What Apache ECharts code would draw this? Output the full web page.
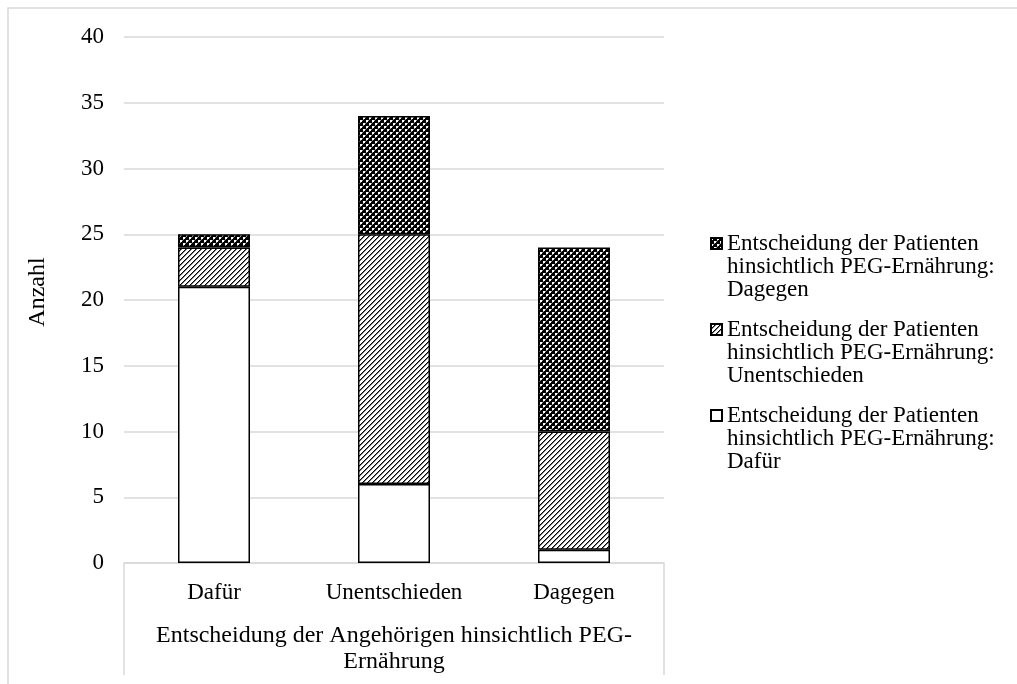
<!DOCTYPE html>
<html>
<head>
<meta charset="utf-8">
<script src="https://cdn.jsdelivr.net/npm/echarts@6/dist/echarts.min.js"></script>
<style>
html,body{margin:0;padding:0;background:#fff;}
#chart{width:1017px;height:684px;}
</style>
</head>
<body>
<div id="chart"></div>
<script>
// ---- data ----
const categories = ['Dafür', 'Unentschieden', 'Dagegen'];
const seriesNames = [
  'Entscheidung der Patienten hinsichtlich PEG-Ernährung: Dafür',
  'Entscheidung der Patienten hinsichtlich PEG-Ernährung: Unentschieden',
  'Entscheidung der Patienten hinsichtlich PEG-Ernährung: Dagegen'
];
const legendLabels = [
  'Entscheidung der Patienten\nhinsichtlich PEG-Ernährung:\nDafür',
  'Entscheidung der Patienten\nhinsichtlich PEG-Ernährung:\nUnentschieden',
  'Entscheidung der Patienten\nhinsichtlich PEG-Ernährung:\nDagegen'
];
const valuesDafuer = [21, 6, 1];
const valuesUnentschieden = [3, 19, 9];
const valuesDagegen = [1, 9, 14];
const yTicks = [0, 5, 10, 15, 20, 25, 30, 35, 40];
const xAxisTitle = 'Entscheidung der Angehörigen hinsichtlich PEG-\nErnährung';
const yAxisTitle = 'Anzahl';

// ---- patterns ----
function hatchPattern() {
  const n = 5;
  const c = document.createElement('canvas');
  c.width = n; c.height = n;
  const g = c.getContext('2d');
  g.fillStyle = '#fff'; g.fillRect(0, 0, n, n);
  for (let i = 0; i < n; i++) {
    g.fillStyle = '#000';
    g.fillRect(i, n - 1 - i, 1, 1);
    g.fillStyle = '#777';
    g.fillRect((i + 1) % n, n - 1 - i, 1, 1);
  }
  return c;
}
function diamondPattern() {
  const n = 6;
  const c = document.createElement('canvas');
  c.width = n; c.height = n;
  const g = c.getContext('2d');
  g.fillStyle = '#000'; g.fillRect(0, 0, n, n);
  g.fillStyle = '#fff';
  g.fillRect(0, 0, 2, 2);
  g.fillRect(3, 3, 2, 2);
  g.fillStyle = '#999';
  g.fillRect(2, 0, 1, 1); g.fillRect(0, 2, 1, 1);
  g.fillRect(5, 3, 1, 1); g.fillRect(3, 5, 1, 1);
  return c;
}

const FONT = '"Liberation Serif", "Times New Roman", serif';
const G = { left: 124, top: 37, width: 540, height: 526 };

const chart = echarts.init(document.getElementById('chart'), null, { renderer: 'canvas' });

const barStyle = (fill) => ({ color: fill, borderColor: '#000', borderWidth: 1.5 });

chart.setOption({
  animation: false,
  backgroundColor: '#fff',
  textStyle: { fontFamily: FONT },
  grid: { left: G.left, top: G.top, width: G.width, height: G.height, containLabel: false },
  xAxis: {
    type: 'category',
    data: categories,
    axisLine: { show: true, lineStyle: { color: '#d9d9d9', width: 1.5 } },
    axisTick: { show: false },
    axisLabel: { color: '#000', fontFamily: FONT, fontSize: 23, margin: 18 },
    name: xAxisTitle,
    nameLocation: 'middle',
    nameGap: 60,
    nameTextStyle: { color: '#000', fontFamily: FONT, fontSize: 24, lineHeight: 26 }
  },
  yAxis: {
    type: 'value',
    min: 0, max: 40, interval: 5,
    axisLine: { show: false },
    axisTick: { show: false },
    splitLine: { lineStyle: { color: '#d9d9d9', width: 1.5 } },
    axisLabel: {
      color: '#000', fontFamily: FONT, fontSize: 23, margin: 20,
      formatter: (v) => (yTicks.indexOf(v) >= 0 ? String(v) : '')
    },
    name: yAxisTitle,
    nameLocation: 'middle',
    nameGap: 74,
    nameRotate: 90,
    nameTextStyle: { color: '#000', fontFamily: FONT, fontSize: 24, padding: [0, 0, 0, 16] }
  },
  legend: {
    orient: 'vertical',
    left: 710,
    top: 186,
    padding: 0,
    itemGap: -29,
    itemWidth: 11,
    itemHeight: 11,
    icon: 'rect',
    data: [seriesNames[2], seriesNames[1], seriesNames[0]],
    formatter: (name) => '\n\n' + legendLabels[seriesNames.indexOf(name)],
    textStyle: { color: '#000', fontFamily: FONT, fontSize: 23, lineHeight: 23 }
  },
  series: [
    { name: seriesNames[0], type: 'bar', stack: 's', barWidth: 72, data: valuesDafuer,
      itemStyle: barStyle('#fff') },
    { name: seriesNames[1], type: 'bar', stack: 's', barWidth: 72, data: valuesUnentschieden,
      itemStyle: barStyle({ image: hatchPattern(), repeat: 'repeat' }) },
    { name: seriesNames[2], type: 'bar', stack: 's', barWidth: 72, data: valuesDagegen,
      itemStyle: barStyle({ image: diamondPattern(), repeat: 'repeat' }) }
  ],
  graphic: [
    { type: 'rect', silent: true, shape: { x: 8, y: 8, width: 1200, height: 900 },
      style: { fill: 'none', stroke: '#d9d9d9', lineWidth: 1.5 } },
    { type: 'line', silent: true, shape: { x1: G.left, y1: G.top + G.height, x2: G.left, y2: 675 },
      style: { stroke: '#d9d9d9', lineWidth: 1.5 } },
    { type: 'line', silent: true, shape: { x1: G.left + G.width, y1: G.top + G.height, x2: G.left + G.width, y2: 675 },
      style: { stroke: '#d9d9d9', lineWidth: 1.5 } }
  ]
});
</script>
</body>
</html>
